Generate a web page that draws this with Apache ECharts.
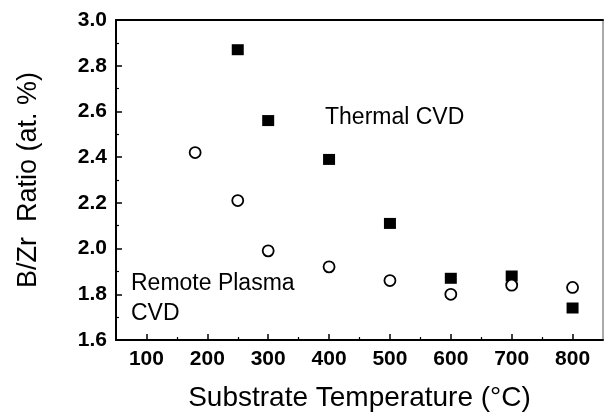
<!DOCTYPE html>
<html>
<head>
<meta charset="utf-8">
<script src="https://cdn.jsdelivr.net/npm/echarts@6/dist/echarts.min.js"></script>
<style>
html,body{margin:0;padding:0;background:#fff;}
#chart{width:604px;height:417px;}
</style>
</head>
<body>
<div id="chart"></div>
<script>
// Data
var thermalX = [250, 300, 400, 500, 600, 700, 800];
var thermalY = [2.87, 2.56, 2.39, 2.11, 1.87, 1.88, 1.74];
var plasmaX = [180, 250, 300, 400, 500, 600, 700, 800];
var plasmaY = [2.42, 2.21, 1.99, 1.92, 1.86, 1.80, 1.84, 1.83];
var xMajorTicks = [100, 200, 300, 400, 500, 600, 700, 800];
var xMinorTicks = [150, 250, 350, 450, 550, 650, 750];
var xTitle = 'Substrate Temperature (°C)';
var yTitle = 'B/Zr  Ratio (at. %)';
var thermalLabel = 'Thermal CVD';
var plasmaLabel = 'Remote Plasma\nCVD';

function pairs(xs, ys) { return xs.map(function (x, i) { return [x, ys[i]]; }); }

var FONT = '"Liberation Sans", Arial, sans-serif';
var chart = echarts.init(document.getElementById('chart'), null, {renderer: 'canvas'});
var option = {
  animation: false,
  backgroundColor: '#fff',
  grid: {left: 116, top: 20, right: 1, bottom: 74, show: true, borderColor: '#555', borderWidth: 1},
  xAxis: [{
    type: 'value', min: 50, max: 850, position: 'bottom',
    name: xTitle, nameLocation: 'middle', nameGap: 44,
    nameTextStyle: {fontFamily: FONT, fontSize: 28, color: '#000'},
    axisLine: {show: true, lineStyle: {color: '#000', width: 2}},
    axisTick: {show: true, inside: true, length: 6, customValues: xMajorTicks, lineStyle: {color: '#000', width: 1.5}},
    axisLabel: {show: true, customValues: xMajorTicks, margin: 9, fontFamily: FONT, fontSize: 21, fontWeight: 'bold', color: '#000'},
    splitLine: {show: false}
  }, {
    type: 'value', min: 50, max: 850, position: 'bottom',
    axisLine: {show: false},
    axisTick: {show: true, inside: true, length: 3, customValues: xMinorTicks, lineStyle: {color: '#000', width: 1.2}},
    axisLabel: {show: false},
    splitLine: {show: false}
  }, {
    type: 'value', min: 50, max: 850, position: 'top',
    axisLine: {show: true, lineStyle: {color: '#000', width: 2}},
    axisTick: {show: false}, axisLabel: {show: false}, splitLine: {show: false}
  }],
  yAxis: [{
    type: 'value', min: 1.6, max: 3.0, interval: 0.2, position: 'left',
    name: yTitle, nameLocation: 'middle', nameGap: 74, nameRotate: 90,
    nameTextStyle: {fontFamily: FONT, fontSize: 27, color: '#000'},
    axisLine: {show: true, lineStyle: {color: '#000', width: 2}},
    axisTick: {show: true, inside: true, length: 6, lineStyle: {color: '#000', width: 1.5}},
    minorTick: {show: true, splitNumber: 2, length: 3, lineStyle: {color: '#000', width: 1.2}},
    axisLabel: {margin: 9, fontFamily: FONT, fontSize: 21, fontWeight: 'bold', color: '#000',
      formatter: function (v) { return v.toFixed(1); }},
    splitLine: {show: false}
  }],
  graphic: [{
    type: 'text', left: 325, top: 106,
    style: {text: thermalLabel, font: '23px ' + FONT, fill: '#000'}
  }, {
    type: 'text', left: 131, top: 269,
    style: {text: plasmaLabel, font: '23px ' + FONT, fill: '#000', lineHeight: 30}
  }],
  series: [{
    name: 'Thermal CVD', type: 'scatter', xAxisIndex: 0, yAxisIndex: 0,
    data: pairs(thermalX, thermalY),
    symbol: 'rect', symbolSize: [12, 11],
    itemStyle: {color: '#000', opacity: 1}
  }, {
    name: 'Remote Plasma CVD', type: 'scatter', xAxisIndex: 0, yAxisIndex: 0,
    data: pairs(plasmaX, plasmaY),
    symbol: 'circle', symbolSize: 11,
    itemStyle: {color: '#fff', borderColor: '#000', borderWidth: 1.8, opacity: 1}
  }]
};
chart.setOption(option);
</script>
</body>
</html>
